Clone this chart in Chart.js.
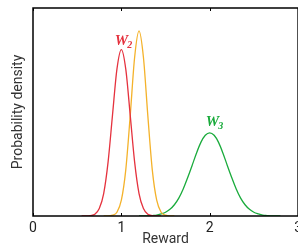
<!DOCTYPE html>
<html>
<head>
<meta charset="utf-8">
<script src="https://cdn.jsdelivr.net/npm/chart.js@4"></script>
<style>
  html, body { margin: 0; padding: 0; background: #fff; overflow: hidden; }
  #wrap { width: 306px; height: 248px; }
</style>
</head>
<body>
<div id="wrap"><canvas id="c"></canvas></div>
<script>
// 数据：概率密度曲线（x 为 Reward）
const redX = [0.55, 0.6, 0.65, 0.7, 0.75, 0.8, 0.85, 0.9, 0.95, 1.0, 1.05, 1.1, 1.15, 1.2, 1.25, 1.3, 1.35, 1.4, 1.45];
const redY = [0.00, 0.00, 0.01, 0.04, 0.18, 0.54, 1.30, 2.43, 3.53, 4.00, 3.53, 2.43, 1.30, 0.54, 0.18, 0.04, 0.01, 0.00, 0.00];

const orangeX = [0.8, 0.85, 0.9, 0.95, 1.0, 1.05, 1.1, 1.15, 1.2, 1.25, 1.3, 1.35, 1.4, 1.45, 1.5, 1.55, 1.6];
const orangeY = [0.00, 0.00, 0.02, 0.09, 0.38, 1.11, 2.40, 3.81, 4.45, 3.81, 2.40, 1.11, 0.38, 0.09, 0.02, 0.00, 0.00];

const greenX = [1.2, 1.25, 1.3, 1.35, 1.4, 1.45, 1.5, 1.55, 1.6, 1.65, 1.7, 1.75, 1.8, 1.85, 1.9, 1.95, 2.0,
                2.05, 2.1, 2.15, 2.2, 2.25, 2.3, 2.35, 2.4, 2.45, 2.5, 2.55, 2.6, 2.65, 2.7, 2.75, 2.8];
const greenY = [0.00, 0.00, 0.00, 0.01, 0.02, 0.05, 0.09, 0.16, 0.27, 0.43, 0.65, 0.92, 1.21, 1.51, 1.77, 1.94, 2.00,
                1.94, 1.77, 1.51, 1.21, 0.92, 0.65, 0.43, 0.27, 0.16, 0.09, 0.05, 0.02, 0.01, 0.00, 0.00, 0.00];

const xTicks = [0, 1, 2, 3];
const curveLabels = [
    { text: 'W', sub: '2', x: 1.03, y: 4.12, color: '#e5323e' },
    { text: 'W', sub: '3', x: 2.06, y: 2.17, color: '#1aab3c' }
];

const RED = '#e5323e';
const ORANGE = '#f4b22a';
const GREEN = '#1aab3c';

function pts(xs, ys) {
    return xs.map((x, i) => ({ x: x, y: ys[i] }));
}

// 绘制图框、内向刻度和曲线标注
const framePlugin = {
    id: 'frame',
    afterDraw(chart) {
        const { ctx, chartArea: a, scales } = chart;
        ctx.save();
        ctx.strokeStyle = '#000';
        ctx.lineWidth = 1.5;
        ctx.strokeRect(a.left, a.top, a.right - a.left, a.bottom - a.top);
        ctx.lineWidth = 1;
        xTicks.forEach(v => {
            const px = Math.round(scales.x.getPixelForValue(v)) + 0.5;
            ctx.beginPath();
            ctx.moveTo(px, a.bottom);
            ctx.lineTo(px, a.bottom - 3);
            ctx.moveTo(px, a.top);
            ctx.lineTo(px, a.top + 3);
            ctx.stroke();
        });
        curveLabels.forEach(l => {
            const px = scales.x.getPixelForValue(l.x);
            const py = scales.y.getPixelForValue(l.y);
            ctx.fillStyle = l.color;
            ctx.textBaseline = 'alphabetic';
            ctx.font = 'bold italic 15px "Liberation Serif"';
            const w = ctx.measureText(l.text).width;
            ctx.font = 'bold italic 10px "Liberation Serif"';
            const sw = ctx.measureText(l.sub).width;
            const x0 = px - (w + sw) / 2;
            ctx.font = 'bold italic 15px "Liberation Serif"';
            ctx.fillText(l.text, x0, py);
            ctx.font = 'bold italic 10px "Liberation Serif"';
            ctx.fillText(l.sub, x0 + w - 1, py + 3);
        });
        ctx.restore();
    }
};

const common = { fill: false, pointRadius: 0, borderWidth: 1.3, cubicInterpolationMode: 'monotone' };

new Chart(document.getElementById('c'), {
    type: 'line',
    data: {
        datasets: [
            Object.assign({ data: pts(redX, redY), borderColor: RED }, common),
            Object.assign({ data: pts(orangeX, orangeY), borderColor: ORANGE }, common),
            Object.assign({ data: pts(greenX, greenY), borderColor: GREEN }, common)
        ]
    },
    options: {
        responsive: true,
        maintainAspectRatio: false,
        animation: false,
        layout: { padding: { top: 8, right: 0, left: 0, bottom: 0 } },
        plugins: { legend: { display: false }, tooltip: { enabled: false } },
        scales: {
            x: {
                type: 'linear',
                min: 0,
                max: 3,
                afterBuildTicks: s => { s.ticks = xTicks.map(v => ({ value: v })); },
                afterFit: s => { s.height = 32; },
                grid: { display: false, drawTicks: false },
                border: { display: false },
                ticks: { color: '#222', font: { family: 'Roboto', size: 14 }, padding: 4, maxRotation: 0 },
                title: { display: true, text: 'Reward', color: '#333', font: { family: 'Roboto', size: 14 }, padding: { top: 2, bottom: 0 } }
            },
            y: {
                min: 0,
                max: 5,
                afterFit: s => { s.width = 33; },
                grid: { display: false, drawTicks: false },
                border: { display: false },
                ticks: { display: false },
                title: { display: true, text: 'Probability density', color: '#333', font: { family: 'Roboto', size: 14 }, padding: { top: 10, bottom: 0 } }
            }
        }
    },
    plugins: [framePlugin]
});
</script>
</body>
</html>
